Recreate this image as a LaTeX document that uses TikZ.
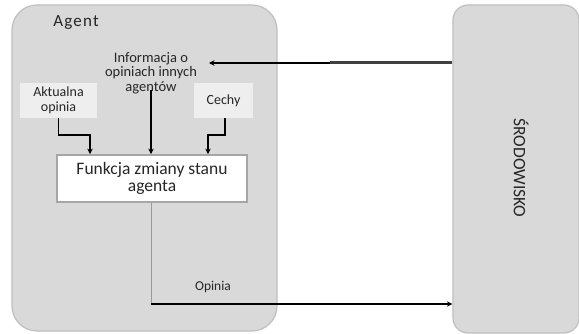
\documentclass[tikz,border=0pt]{standalone}
\usepackage{fontspec}
\setmainfont{Carlito}
\usetikzlibrary{arrows.meta}
\definecolor{boxgray}{HTML}{D9D9D9}
\definecolor{boxedge}{HTML}{BFBFBF}
\definecolor{lightbox}{HTML}{EEEEEE}
\definecolor{funcedge}{HTML}{A6A6A6}
\definecolor{txt}{HTML}{262626}
\tikzset{
  bigbox/.style={draw=boxedge, line width=1.2pt, fill=boxgray, inner sep=0pt},
  inbox/.style={fill=lightbox, inner sep=0pt, align=center, text=txt, font=\fontsize{14}{15}\selectfont},
  funcbox/.style={draw=funcedge, line width=1.8pt, fill=white, inner sep=0pt, align=center, text=txt, font=\fontsize{17.5}{16.5}\selectfont},
  lbl/.style={text=txt, align=center, inner sep=0pt},
  arr/.style={draw=black, line width=1.6pt, -{Stealth[length=5.5pt,width=5.5pt]}},
}
\begin{document}
\begin{tikzpicture}[x=1pt,y=-1pt]
\useasboundingbox (0,0) rectangle (579,334);
% big boxes
\node[bigbox, rounded corners=25pt, minimum width=265pt, minimum height=326pt] (agent) at (144.5,168) {};
\node[bigbox, rounded corners=15pt, minimum width=126pt, minimum height=328pt] (env) at (516,169) {};
\node[lbl, rotate=-90, font=\fontsize{17.5}{17.5}\selectfont] (envtxt) at (521,168) {ŚRODOWISKO};
% labels
\node[lbl, font=\fontsize{17}{17}\selectfont\addfontfeature{LetterSpace=7}] (agentlbl) at (76,23) {Agent};
\node[lbl, font=\fontsize{14.5}{14.5}\selectfont] (info) at (151,73) {Informacja o\\opiniach innych\\agentów};
% inner boxes
\node[inbox, minimum width=77pt, minimum height=35pt] (akt) at (58.5,100.5) {Aktualna\\opinia};
\node[inbox, minimum width=59pt, minimum height=35pt] (cechy) at (223.5,100.5) {Cechy};
\node[funcbox, minimum width=190pt, minimum height=47pt] (func) at (152,178.5) {Funkcja zmiany stanu\\agenta};
\node[lbl, font=\fontsize{13.5}{13.5}\selectfont] (opinia) at (213,287) {Opinia};
% connectors into the function box
\draw[arr] (akt.south) -- ++(0,17) -| ([xshift=-62pt]func.north);
\draw[arr] ([yshift=4pt]info.south) -- (info.south |- func.north);
\draw[arr] ([xshift=1.5pt]cechy.south) -- ++(0,17) -| ([xshift=56pt]func.north);
% input from environment
\coordinate (inmid) at (330,63);
\coordinate (inend) at (209,63);
\draw[line width=3pt, draw=black!75] (env.west |- inmid) -- (inmid);
\draw[arr, line width=1.6pt] (inmid) -- (inend);
% output to environment
\coordinate (outcorner) at (151,304);
\draw[draw=black!40, line width=1pt] ([xshift=-1pt]func.south) -- (outcorner);
\draw[arr, line width=1.6pt] (outcorner) -- (env.west |- outcorner);
\end{tikzpicture}
\end{document}
